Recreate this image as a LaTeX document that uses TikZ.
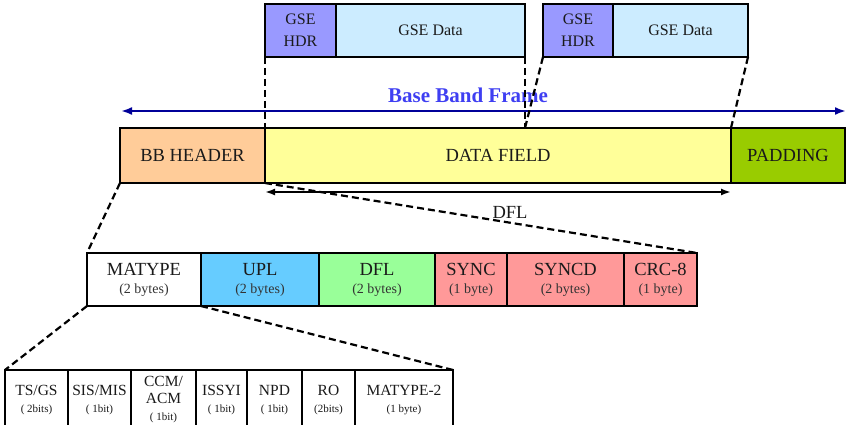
\documentclass[tikz,border=0pt]{standalone}
\usepackage{fontspec,xcolor,tikz}
\setmainfont{Liberation Serif}
\usetikzlibrary{arrows.meta,positioning}
\definecolor{ink}{HTML}{1A1A1A}
\definecolor{grauink}{HTML}{333333}
\definecolor{gsekopf}{HTML}{9999FF}
\definecolor{gsedaten}{HTML}{CCECFF}
\definecolor{bbkopf}{HTML}{FFCC99}
\definecolor{datenfeld}{HTML}{FFFF99}
\definecolor{fueller}{HTML}{99CC00}
\definecolor{uplblau}{HTML}{66CCFF}
\definecolor{dflgruen}{HTML}{99FF99}
\definecolor{rosa}{HTML}{FF9999}
\definecolor{titelblau}{HTML}{3F3FF2}
\definecolor{pfeilblau}{HTML}{000099}
\newcommand{\gross}{\fontsize{18.5}{18}\selectfont}
\newcommand{\gsetxt}{\fontsize{16}{22}\selectfont}
\newcommand{\feldtxt}{\fontsize{15.5}{17}\selectfont}
\newcommand{\klein}{\fontsize{14}{17}\selectfont}
\newcommand{\winzig}{\fontsize{11}{17}\selectfont}
\tikzset{feld/.style={draw=black,line width=1.4pt,inner sep=0,outer sep=0,
    text=ink,align=center},
  gsezeile/.style={feld,minimum height=53,font=\gsetxt},
  bbzeile/.style={feld,minimum height=55,font=\gross},
  kopfzeile/.style={feld,minimum height=53,font=\gross},
  bitzeile/.style={feld,minimum height=60,font=\feldtxt},
  zoomlinie/.style={line width=2.2pt,dash pattern=on 7pt off 4pt},
  bbpfeil/.style={pfeilblau,line width=2.4pt,
    {Latex[length=11pt,width=8pt]}-{Latex[length=11pt,width=8pt]}},
  laengenpfeil/.style={black,line width=1.8pt,
    {Latex[length=10pt,width=7pt]}-{Latex[length=10pt,width=7pt]}}}

\begin{document}
\begin{tikzpicture}[x=1pt,y=-1pt]
\useasboundingbox (0,0) rectangle (847,425);
\clip (0,0) rectangle (847,425);
% GSE Pakete oben
\node[gsezeile,fill=gsekopf,minimum width=71,anchor=north west] (gsekopfa) at (265,4) {GSE\\HDR};
\node[gsezeile,fill=gsedaten,minimum width=189,right=0pt of gsekopfa] (gsedatena) {GSE Data};
\node[gsezeile,fill=gsekopf,minimum width=70,anchor=north west] (gsekopfb) at (543,4) {GSE\\HDR};
\node[gsezeile,fill=gsedaten,minimum width=135,right=0pt of gsekopfb] (gsedatenb) {GSE Data};
% Base Band Frame
\node[gsezeile,draw=none,minimum height=0,font=\fontsize{21}{24}\selectfont\bfseries,text=titelblau] (bbtitel) at (468,95) {Base Band Frame};
\coordinate (bblinks) at (121,111);
\coordinate (bbrechts) at (846,111);
\draw[bbpfeil] (bblinks) -- (bbrechts);
\node[bbzeile,fill=bbkopf,minimum width=145,anchor=north west] (bbh) at (120,128) {BB HEADER};
\node[bbzeile,fill=datenfeld,minimum width=466,right=0pt of bbh] (dfeld) {DATA FIELD};
\node[bbzeile,fill=fueller,minimum width=114,right=0pt of dfeld] (padding) {PADDING};
\coordinate (teilung) at (525,128);
\draw[laengenpfeil] ([yshift=-9pt]dfeld.south west) -- ([yshift=-9pt]dfeld.south east);
\node[font=\gross,text=ink,inner sep=0] (dfltxt) at (510,212) {DFL};
% BB Header Felder
\node[kopfzeile,fill=white,minimum width=114,anchor=north west] (matype) at (87,253) {MATYPE\\{\klein\color{grauink}(2 bytes)}};
\node[kopfzeile,fill=uplblau,minimum width=118,right=0pt of matype] (upl) {UPL\\{\klein\color{grauink}(2 bytes)}};
\node[kopfzeile,fill=dflgruen,minimum width=116,right=0pt of upl] (dfl) {DFL\\{\klein\color{grauink}(2 bytes)}};
\node[kopfzeile,fill=rosa,minimum width=72,right=0pt of dfl] (sync) {SYNC\\{\klein\color{grauink}(1 byte)}};
\node[kopfzeile,fill=rosa,minimum width=117,right=0pt of sync] (syncd) {SYNCD\\{\klein\color{grauink}(2 bytes)}};
\node[kopfzeile,fill=rosa,minimum width=73,right=0pt of syncd] (crc) {CRC-8\\{\klein\color{grauink}(1 byte)}};
% MATYPE Bits
\node[bitzeile,minimum width=63,anchor=north west] (tsgs) at (5,370) {TS/GS\\{\winzig( 2bits)}};
\node[bitzeile,minimum width=63,right=0pt of tsgs] (sismis) {SIS/MIS\\{\winzig( 1bit)}};
\node[bitzeile,minimum width=65,right=0pt of sismis] (ccmacm) {CCM/\\ACM\\{\winzig( 1bit)}};
\node[bitzeile,minimum width=51,right=0pt of ccmacm] (issyi) {ISSYI\\{\winzig( 1bit)}};
\node[bitzeile,minimum width=55,right=0pt of issyi] (npd) {NPD\\{\winzig( 1bit)}};
\node[bitzeile,minimum width=53,right=0pt of npd] (ro) {RO\\{\winzig(2bits)}};
\node[bitzeile,minimum width=98,right=0pt of ro] (matypezwei) {MATYPE-2\\{\winzig(1 byte)}};
% Zoomlinien
\draw[zoomlinie] (gsekopfa.south west) -- (dfeld.north west);
\draw[zoomlinie] (gsedatena.south east) -- (teilung);
\draw[zoomlinie] (gsekopfb.south west) -- (teilung);
\draw[zoomlinie] (gsedatenb.south east) -- (dfeld.north east);
\draw[zoomlinie] (bbh.south west) -- (matype.north west);
\draw[zoomlinie] (bbh.south east) -- (crc.north east);
\draw[zoomlinie] (matype.south west) -- (tsgs.north west);
\draw[zoomlinie] (matype.south east) -- (matypezwei.north east);
\end{tikzpicture}
\end{document}
